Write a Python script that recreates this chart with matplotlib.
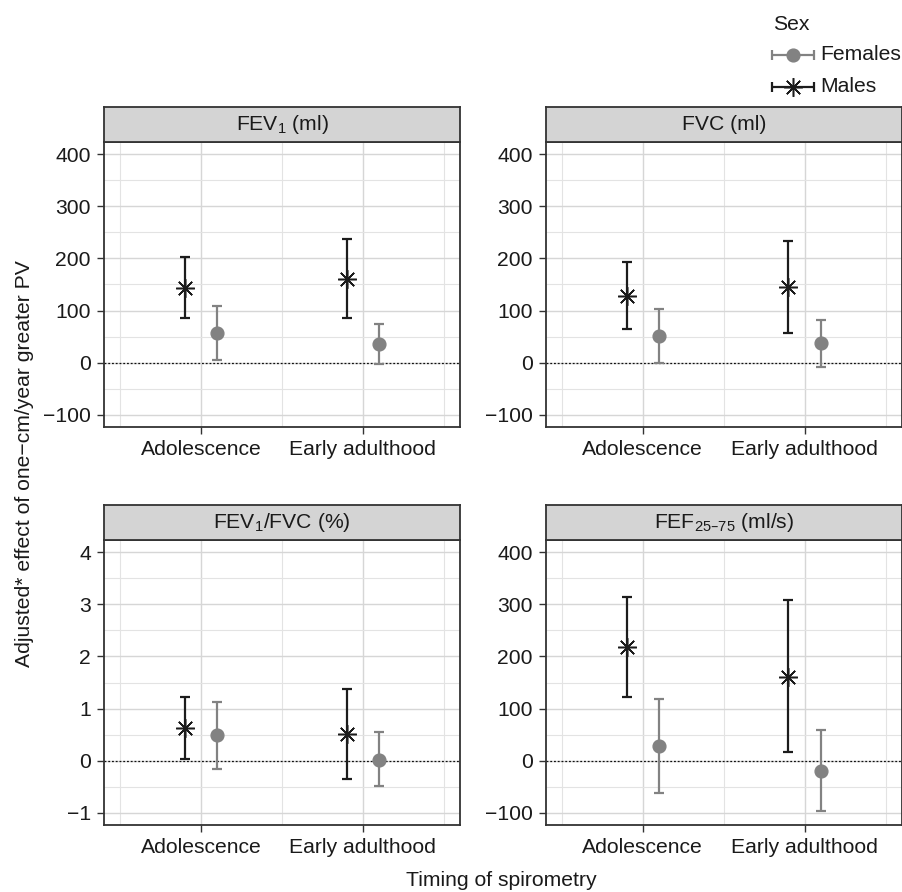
import matplotlib
matplotlib.use("Agg")
import matplotlib.pyplot as plt
import numpy as np

plt.rcParams['font.family'] = ['Liberation Sans', 'DejaVu Sans']
plt.rcParams['mathtext.default'] = 'regular'

# ---------------- data ----------------
categories = ["Adolescence", "Early adulthood"]
panel_titles = ["FEV$_1$ (ml)", "FVC (ml)", "FEV$_1$/FVC (%)", "FEF$_{25\u201375}$ (ml/s)"]

# males / females: estimate, lower CI, upper CI
fev1_m = [143, 160]
fev1_m_lo = [85, 85]
fev1_m_hi = [202, 238]
fev1_f = [56, 35]
fev1_f_lo = [5, -2]
fev1_f_hi = [108, 74]

fvc_m = [128, 145]
fvc_m_lo = [64, 56]
fvc_m_hi = [193, 234]
fvc_f = [51, 37]
fvc_f_lo = [-1, -8]
fvc_f_hi = [103, 82]

ratio_m = [0.63, 0.51]
ratio_m_lo = [0.03, -0.36]
ratio_m_hi = [1.23, 1.37]
ratio_f = [0.49, 0.01]
ratio_f_lo = [-0.16, -0.49]
ratio_f_hi = [1.12, 0.55]

fef_m = [219, 161]
fef_m_lo = [123, 17]
fef_m_hi = [314, 308]
fef_f = [28, -20]
fef_f_lo = [-62, -97]
fef_f_hi = [118, 58]

ml_ticks = [-100, 0, 100, 200, 300, 400]
pct_ticks = [-1, 0, 1, 2, 3, 4]

panels = [
    (fev1_m, fev1_m_lo, fev1_m_hi, fev1_f, fev1_f_lo, fev1_f_hi, ml_ticks),
    (fvc_m, fvc_m_lo, fvc_m_hi, fvc_f, fvc_f_lo, fvc_f_hi, ml_ticks),
    (ratio_m, ratio_m_lo, ratio_m_hi, ratio_f, ratio_f_lo, ratio_f_hi, pct_ticks),
    (fef_m, fef_m_lo, fef_m_hi, fef_f, fef_f_lo, fef_f_hi, ml_ticks),
]

# ---------------- style ----------------
W, H = 903, 892
DPI = 100
MALE = '#1c1c1c'
FEMALE = '#828282'
TEXT = '#1a1a1a'
FS = 15.2
GRID = '#d6d6d6'
STAR = (8, 2, 0)
STAR_MS = 13.5

fig = plt.figure(figsize=(W / DPI, H / DPI), dpi=DPI)

def px_axes(left, top, right, bottom):
    return fig.add_axes([left / W, 1 - bottom / H, (right - left) / W, (bottom - top) / H])

boxes = [
    (104, 142, 460, 427),
    (545.7, 142, 901.7, 427),
    (104, 540, 460, 825),
    (545.7, 540, 901.7, 825),
]
strip_h = 35
dodge = 0.1
x = np.arange(1, len(categories) + 1)

for (l, t, r, b), title, pdata in zip(boxes, panel_titles, panels):
    m, mlo, mhi, f, flo, fhi, ticks = pdata
    ax = px_axes(l, t, r, b)
    step = ticks[1] - ticks[0]
    ax.set_yticks(ticks)
    ax.set_yticks([v + step / 2 for v in ticks[:-1]], minor=True)
    ax.set_xticks(x)
    ax.set_xticks([0.5, 1.5, 2.5], minor=True)
    ax.set_xticklabels(categories)
    ax.set_ylim(ticks[0] - 0.237 * step, ticks[-1] + 0.237 * step)
    ax.set_xlim(0.4, 2.6)
    ax.grid(True, which='major', color=GRID, lw=1.0, zorder=0)
    ax.grid(True, which='minor', color='#e3e3e3', lw=0.8, zorder=0)
    ax.set_axisbelow(True)
    ax.tick_params(which='major', length=5, width=1.0, color='#333333',
                   labelsize=FS, labelcolor=TEXT, pad=4.5)
    ax.tick_params(which='minor', length=0)
    for s in ax.spines.values():
        s.set_color('#333333')
        s.set_linewidth(1.3)
    ax.axhline(0, color='#111111', lw=0.9, ls=(0, (1.5, 1.5)), zorder=1)

    # males
    m_arr = np.array(m, dtype=float)
    ax.errorbar(x - dodge, m_arr,
                yerr=[m_arr - np.array(mlo), np.array(mhi) - m_arr],
                fmt='none', ecolor=MALE, elinewidth=1.6, capsize=3.9,
                capthick=1.6, zorder=3)
    ax.plot(x - dodge, m_arr, ls='none', marker=STAR, ms=STAR_MS, mew=1.1,
            color=MALE, zorder=4)
    # females
    f_arr = np.array(f, dtype=float)
    ax.errorbar(x + dodge, f_arr,
                yerr=[f_arr - np.array(flo), np.array(fhi) - f_arr],
                fmt='none', ecolor=FEMALE, elinewidth=1.6, capsize=3.9,
                capthick=1.6, zorder=3)
    ax.plot(x + dodge, f_arr, ls='none', marker='o', ms=9.2,
            color=FEMALE, mec=FEMALE, zorder=4)

    # strip
    sax = px_axes(l, t - strip_h, r, t)
    sax.set_facecolor('#d4d4d4')
    sax.set_xticks([])
    sax.set_yticks([])
    for s in sax.spines.values():
        s.set_color('#333333')
        s.set_linewidth(1.3)
    sax.text(0.5, 0.5, title, ha='center', va='center', fontsize=FS,
             color=TEXT, transform=sax.transAxes)

# axis titles
fig.text(501.7 / W, 1 - 880 / H, "Timing of spirometry", ha='center',
         va='center', fontsize=FS, color=TEXT)
fig.text(25 / W, 1 - 464 / H, "Adjusted* effect of one\u2212cm/year greater PV",
         ha='center', va='center', rotation=90, fontsize=FS, color=TEXT)

# legend (manual, in pixel coordinates)
lax = fig.add_axes([0, 0, 1, 1], facecolor='none')
lax.set_xlim(0, W)
lax.set_ylim(H, 0)
lax.axis('off')
lax.text(773, 25, "Sex", ha='left', va='center', fontsize=FS, color=TEXT)
for yk, col, mk, ms, lab in [(55, FEMALE, 'o', 9.2, "Females"),
                             (87, MALE, STAR, STAR_MS, "Males")]:
    lax.errorbar([793], [yk], xerr=[[21]], fmt='none', ecolor=col,
                 elinewidth=1.6, capsize=3.9, capthick=1.6)
    if mk == 'o':
        lax.plot([793], [yk], ls='none', marker=mk, ms=ms, color=col)
    else:
        lax.plot([793], [yk], ls='none', marker=mk, ms=ms, mew=1.1, color=col)
    lax.text(820, yk, lab, ha='left', va='center', fontsize=FS, color=TEXT)

fig.savefig("out.png", dpi=DPI)
